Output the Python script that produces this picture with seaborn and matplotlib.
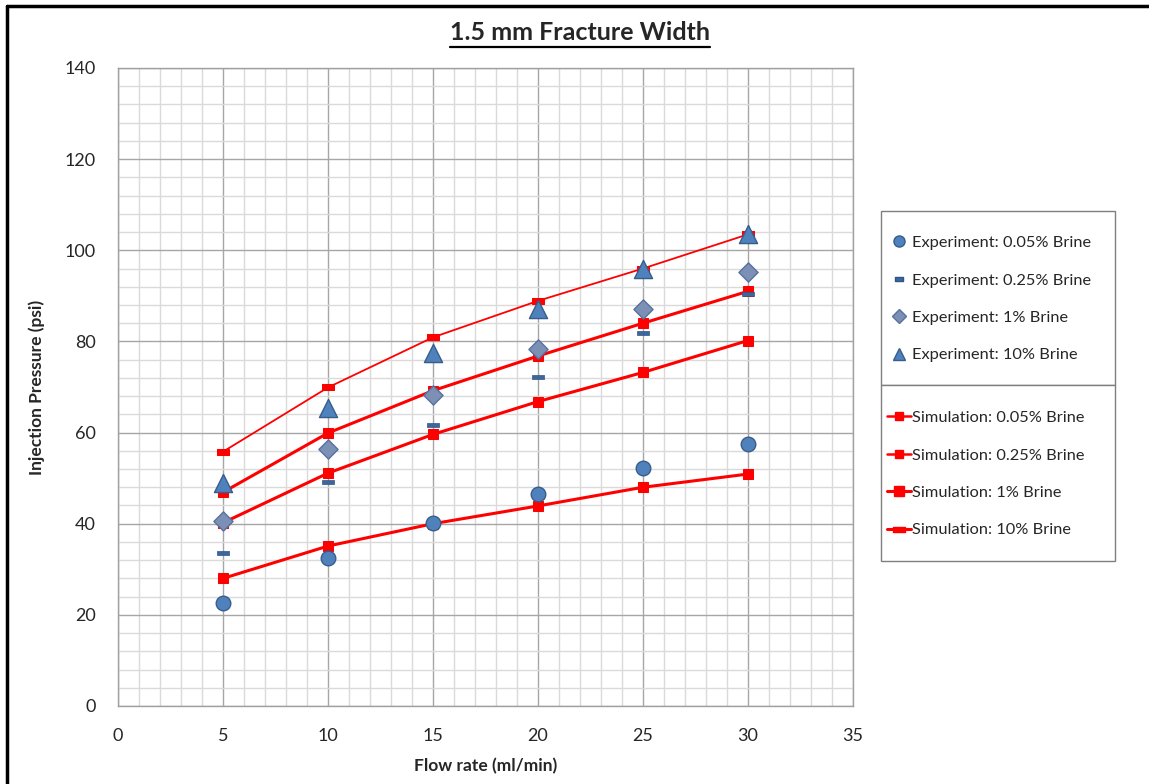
import numpy as np
import matplotlib
matplotlib.use("Agg")
import matplotlib.pyplot as plt
import seaborn as sns
from matplotlib.lines import Line2D
from matplotlib.patches import Rectangle
from matplotlib.path import Path
from matplotlib.ticker import MultipleLocator

# data
flow = [5, 10, 15, 20, 25, 30]

exp_005 = [22.5, 32.5, 40.1, 46.6, 52.3, 57.6]
exp_025 = [33.5, 49.2, 61.6, 72.2, 81.8, 90.4]
exp_1 = [40.6, 56.4, 68.3, 78.3, 87.2, 95.2]
exp_10 = [49.0, 65.4, 77.5, 87.1, 95.9, 103.5]

sim_005 = [28.0, 35.1, 40.0, 43.9, 48.0, 50.9]
sim_025 = [40.2, 51.1, 59.6, 66.8, 73.2, 80.2]
sim_1 = [46.9, 59.9, 69.2, 76.8, 84.0, 91.0]
sim_10 = [55.8, 69.9, 80.9, 88.9, 96.0, 103.5]

exp_labels = ['Experiment: 0.05% Brine', 'Experiment: 0.25% Brine',
              'Experiment: 1% Brine', 'Experiment: 10% Brine']
sim_labels = ['Simulation: 0.05% Brine', 'Simulation: 0.25% Brine',
              'Simulation: 1% Brine', 'Simulation: 10% Brine']

sns.set_style("white")
plt.rcParams['font.family'] = ['Lato', 'DejaVu Sans']

blue = '#4F81BD'
blue_edge = '#385D8A'
diam = '#7C90B6'
diam_edge = '#56709E'
red = '#FF0000'

# flat rectangle markers
dash = Path([(-1, -0.4), (1, -0.4), (1, 0.4), (-1, 0.4), (-1, -0.4)],
            [Path.MOVETO, Path.LINETO, Path.LINETO, Path.LINETO, Path.CLOSEPOLY])
flat = Path([(-1, -0.45), (1, -0.45), (1, 0.45), (-1, 0.45), (-1, -0.45)],
            [Path.MOVETO, Path.LINETO, Path.LINETO, Path.LINETO, Path.CLOSEPOLY])

W, H = 1149, 784
fig = plt.figure(figsize=(11.49, 7.84), dpi=100)
ax = fig.add_axes([118 / W, 1 - 706 / H, 735 / W, 638 / H])

# simulations
sns.lineplot(x=flow, y=sim_005, ax=ax, color=red, lw=2.2, marker='s', ms=7,
             mec=red, mfc=red, zorder=3)
sns.lineplot(x=flow, y=sim_025, ax=ax, color=red, lw=2.2, marker='s', ms=7,
             mec=red, mfc=red, zorder=3)
sns.lineplot(x=flow, y=sim_1, ax=ax, color=red, lw=2.2, marker='s', ms=7.5,
             mec=red, mfc=red, zorder=3)
sns.lineplot(x=flow, y=sim_10, ax=ax, color=red, lw=1.3, marker=flat, ms=9,
             mec=red, mfc=red, zorder=3)

# experiments
sns.scatterplot(x=flow, y=exp_005, ax=ax, marker='o', s=110, color=blue,
                edgecolor=blue_edge, linewidth=1, zorder=4)
sns.scatterplot(x=flow, y=exp_025, ax=ax, marker=dash, s=80, color='#3D679C',
                edgecolor='#2F5585', linewidth=0.5, zorder=4)
sns.scatterplot(x=flow, y=exp_1, ax=ax, marker='D', s=95, color=diam,
                edgecolor=diam_edge, linewidth=1, zorder=4)
sns.scatterplot(x=flow, y=exp_10, ax=ax, marker='^', s=170, color=blue,
                edgecolor=blue_edge, linewidth=1, zorder=4)

ax.set_xlim(0, 35)
ax.set_ylim(0, 140)
ax.xaxis.set_major_locator(MultipleLocator(5))
ax.xaxis.set_minor_locator(MultipleLocator(1))
ax.yaxis.set_major_locator(MultipleLocator(20))
ax.yaxis.set_minor_locator(MultipleLocator(4))
ax.grid(which='major', color='#A6A6A6', lw=1)
ax.grid(which='minor', color='#DADADA', lw=1)
ax.set_axisbelow(True)
ax.tick_params(which='both', length=0, labelsize=13, labelcolor='#262626')
ax.tick_params(axis='x', pad=16)
ax.tick_params(axis='y', pad=16)
for s in ax.spines.values():
    s.set_color('#A0A0A0')
    s.set_linewidth(1)

ax.set_xlabel('Flow rate (ml/min)', fontsize=12.5, fontweight='bold', labelpad=10)
ax.set_ylabel('Injection Pressure (psi)', fontsize=12.5, fontweight='bold', labelpad=14)

# legends
exp_handles = [
    Line2D([], [], ls='none', marker='o', ms=8, mfc=blue, mec=blue_edge),
    Line2D([], [], ls='none', marker=dash, ms=6, mfc='#3D679C', mec='#2F5585'),
    Line2D([], [], ls='none', marker='D', ms=7, mfc=diam, mec=diam_edge),
    Line2D([], [], ls='none', marker='^', ms=9, mfc=blue, mec=blue_edge),
]
sim_handles = [
    Line2D([], [], color=red, lw=1.8, marker='s', ms=6, mfc=red, mec=red),
    Line2D([], [], color=red, lw=1.8, marker='s', ms=6, mfc=red, mec=red),
    Line2D([], [], color=red, lw=2.2, marker='s', ms=6.5, mfc=red, mec=red),
    Line2D([], [], color=red, lw=2.2, marker=flat, ms=8, mfc=red, mec=red),
]

# legend boxes drawn by hand, legends placed inside without frames
for y0, y1 in [(211, 385), (385, 561)]:
    fig.add_artist(Rectangle((881 / W, 1 - y1 / H), 234 / W, (y1 - y0) / H,
                             transform=fig.transFigure, facecolor='white',
                             edgecolor='#7F7F7F', lw=1, zorder=5))

leg_kw = dict(fontsize=11.8, frameon=False, handlelength=1.45, handletextpad=0.05,
              labelspacing=1.4, borderpad=0, loc='center left', borderaxespad=0)
leg1 = fig.legend(exp_handles, exp_labels, bbox_to_anchor=(887 / W, 1 - 299 / H),
                  **leg_kw)
leg2 = fig.legend(sim_handles, sim_labels, bbox_to_anchor=(887 / W, 1 - 474 / H),
                  **leg_kw)
leg1.set_zorder(6)
leg2.set_zorder(6)

# title with underline
title = fig.text(580 / W, 1 - 33 / H, '1.5 mm Fracture Width', ha='center',
                 va='center', fontsize=18, fontweight='bold')
fig.canvas.draw()
bb = title.get_window_extent()
uy = (bb.y0 - 2) / fig.bbox.height
fig.add_artist(Line2D([bb.x0 / fig.bbox.width, bb.x1 / fig.bbox.width], [uy, uy],
                      transform=fig.transFigure, color='black', lw=1.6))

# outer chart border (left and top only visible)
fig.add_artist(Line2D([7 / W, 7 / W], [0, 1 - 6 / H],
                      transform=fig.transFigure, color='black', lw=2.5))
fig.add_artist(Line2D([7 / W, 1], [1 - 6 / H, 1 - 6 / H],
                      transform=fig.transFigure, color='black', lw=2.5))

fig.savefig('out.png', dpi=100)
